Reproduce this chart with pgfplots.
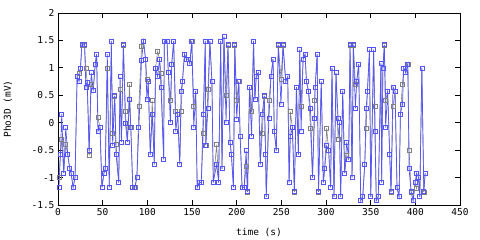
\documentclass[border=0pt]{standalone}
\usepackage{pgfplots}
\pgfplotsset{compat=1.18}
\usepackage{fontspec}
\setmainfont{DejaVu Sans Mono}
\definecolor{bl}{RGB}{85,85,255}
\definecolor{gr}{RGB}{128,128,128}
\begin{document}
\begin{tikzpicture}
\useasboundingbox (-58pt,-35pt) rectangle (422pt,205pt);
\begin{axis}[at={(0,0)}, anchor=south west, scale only axis,
  width=402pt, height=192pt,
  xmin=0, xmax=450, ymin=-1.5, ymax=2,
  xtick={0,50,100,150,200,250,300,350,400,450},
  xticklabels={0,50,100,150,200,250,300,350,400,450},
  ytick={-1.5,-1,-0.5,0,0.5,1,1.5,2},
  yticklabels={-1.5,-1,-0.5,0,0.5,1,1.5,2},
  tick align=inside, major tick length=5pt,
  tick style={black, line width=0.8pt},
  axis line style={line width=0.8pt},
  ticklabel style={font=\fontsize{9.5}{11}\selectfont},
  label style={font=\fontsize{9.5}{11}\selectfont},
  xlabel={time (s)},
  xlabel style={at={(rel axis cs:0.5,0)}, anchor=center, yshift=-28pt},
  clip=false,
]
\addplot[color=gr, line width=0.6pt, mark=square, mark size=2pt, mark options={solid}] coordinates {
(1.1,-1.0) (2.7,-0.58) (4.2,-0.3) (6.4,-0.92) (8.7,-0.4) (10.9,-0.58) (13.2,-0.84) (14.7,-0.92) (16.9,-1.18) (19.1,-1.0)
(21.4,0.84) (23.6,0.9) (25.2,1.0) (26.7,1.42) (29.7,1.42) (31.2,1.0) (32.7,0.74) (34.9,-0.6) (37.2,0.7) (39.4,0.59)
(41.7,1.07) (43.2,1.25) (44.7,0.1) (47.0,-0.09) (49.2,-1.18) (51.4,-0.92) (52.9,-0.84) (55.2,1.0) (57.4,-1.18) (59.7,1.49)
(61.2,-0.2) (63.5,0.49) (65.0,-0.4) (68.0,-1.09) (69.5,0.6) (71.0,-0.35) (73.2,1.42) (75.5,0.2) (77.7,-0.35) (80.0,0.7)
(81.5,-0.09) (83.7,-1.18) (86.0,-1.18) (88.3,-1.0) (90.5,0.3) (93.5,1.4) (95.7,1.49) (98.0,1.16) (99.5,0.8) (101.0,0.75)
(103.3,-0.58) (105.5,0.4) (107.8,-0.76) (109.2,1.0) (111.5,1.3) (113.7,1.16) (115.3,0.9) (118.3,-0.67) (119.0,1.49) (122.0,1.49)
(123.5,0.91) (125.8,0.4) (127.3,1.07) (129.5,1.49) (131.8,0.2) (134.0,0.16) (136.3,-0.76) (137.8,0.2) (139.3,0.75) (141.6,1.25)
(143.8,1.16) (146.0,1.16) (147.5,1.08) (149.8,1.49) (152.0,0.3) (154.2,0.58) (155.8,-1.18) (158.1,-1.09) (160.4,-1.09) (162.6,-0.2)
(164.9,1.49) (165.5,-0.41) (167.8,0.6) (170.0,1.49) (172.3,0.75) (173.8,-1.09) (177.6,-0.4) (179.8,-1.09) (182.1,1.49) (183.6,-0.84)
(185.8,1.57) (188.1,0.5) (190.3,1.42) (192.6,-0.35) (194.1,-0.58) (196.4,-1.18) (197.9,1.42) (200.1,0.4) (202.4,0.75) (203.9,-0.25)
(206.1,-1.18) (208.4,-1.18) (210.6,-0.8) (212.2,-1.26) (214.4,0.65) (216.7,0.2) (218.9,1.49) (220.4,0.42) (221.9,0.84) (224.1,0.91)
(226.4,-0.76) (228.6,-0.2) (230.9,0.49) (232.4,-0.58) (233.1,-1.35) (236.1,0.4) (238.4,0.84) (240.7,1.16) (242.1,-0.16) (244.4,-0.51)
(246.6,1.42) (249.6,0.8) (251.9,1.42) (254.9,0.75) (257.2,0.84) (258.7,-1.09) (260.1,0.2) (262.4,-0.09) (264.6,-1.26) (266.9,0.65)
(269.1,-0.58) (270.6,1.33) (272.1,0.3) (274.4,1.16) (276.6,1.25) (278.1,0.75) (280.4,0.58) (282.6,-0.1) (284.9,-1.0) (287.1,0.4)
(287.9,0.65) (290.1,1.25) (291.6,-1.26) (294.7,0.75) (297.0,-1.09) (298.5,-0.84) (300.7,-0.1) (303.0,-0.51) (305.2,-1.18) (306.7,1.0)
(309.0,-1.35) (311.2,0.91) (313.5,-0.3) (315.0,0.0) (316.4,-1.35) (318.7,0.58) (320.9,-0.92) (323.2,-0.6) (325.4,-0.67) (326.9,1.42)
(329.2,-1.0) (330.6,1.42) (332.9,0.7) (334.4,0.75) (336.6,1.07) (338.9,-1.42) (341.1,-1.35) (343.4,-0.76) (344.9,-0.1) (346.4,0.58)
(348.7,1.33) (350.1,-1.35) (353.3,1.33) (354.7,0.3) (356.3,-1.42) (358.5,-1.35) (361.5,1.08) (362.3,-1.09) (363.7,1.0) (365.3,1.42)
(366.8,0.4) (369.0,0.58) (371.3,-0.58) (372.8,-1.26) (375.0,0.3) (377.3,0.58) (379.5,-1.18) (381.8,-1.35) (383.3,0.16) (385.6,0.7)
(387.0,1.0) (389.3,0.91) (391.6,1.07) (393.0,-0.5) (395.3,-1.26) (397.5,-1.42) (399.8,-1.09) (401.3,-1.2) (403.6,-1.0) (405.0,-1.35)
(407.3,1.0) (409.5,-1.26) (411.0,-0.92)
};
\addplot[color=bl, line width=0.7pt, mark=square, mark size=2pt, mark options={solid}] coordinates {
(1.1,-1.18) (2.7,-0.58) (4.2,0.16) (6.4,-0.92) (8.7,-0.09) (10.9,-0.58) (13.2,-0.84) (14.7,-0.92) (16.9,-1.18) (19.1,-1.0)
(21.4,0.84) (23.6,0.75) (25.2,1.0) (26.7,1.42) (29.7,1.42) (31.2,0.65) (32.7,0.74) (34.9,-0.51) (37.2,0.91) (39.4,0.59)
(41.7,1.07) (43.2,1.25) (44.7,-0.16) (47.0,-0.09) (49.2,-1.18) (51.4,-0.92) (52.9,-0.84) (55.2,1.25) (57.4,-1.18) (59.7,1.49)
(61.2,-0.42) (63.5,0.49) (65.0,-0.58) (68.0,-1.09) (69.5,0.84) (71.0,-0.35) (73.2,1.42) (75.5,-0.01) (77.7,-0.35) (80.0,0.42)
(81.5,-0.09) (83.7,-1.18) (86.0,-1.18) (88.3,-1.0) (90.5,-0.09) (93.5,1.13) (95.7,1.49) (98.0,1.16) (99.5,0.42) (101.0,0.75)
(103.3,-0.58) (105.5,0.16) (107.8,-0.76) (109.2,1.0) (111.5,0.84) (113.7,1.16) (115.3,0.65) (118.3,-0.67) (119.0,1.49) (122.0,1.49)
(123.5,0.91) (125.8,0.0) (127.3,1.07) (129.5,1.49) (131.8,-0.16) (134.0,0.16) (136.3,-0.76) (137.8,0.58) (139.3,0.75) (141.6,1.25)
(143.8,1.16) (146.0,1.16) (147.5,1.08) (149.8,1.49) (152.0,-0.09) (154.2,0.58) (155.8,-1.18) (158.1,-1.09) (160.4,-1.09) (162.6,0.16)
(164.9,1.49) (165.5,-0.41) (167.8,0.26) (170.0,1.49) (172.3,0.75) (173.8,-1.09) (177.6,-0.76) (179.8,-1.09) (182.1,1.49) (183.6,-0.84)
(185.8,1.57) (188.1,0.0) (190.3,1.42) (192.6,-0.35) (194.1,-0.58) (196.4,-1.18) (197.9,1.42) (200.1,0.07) (202.4,0.75) (203.9,-0.25)
(206.1,-1.18) (208.4,-1.18) (210.6,-0.51) (212.2,-1.26) (214.4,0.65) (216.7,-0.25) (218.9,1.49) (220.4,0.42) (221.9,0.84) (224.1,0.91)
(226.4,-0.76) (228.6,0.16) (230.9,0.49) (232.4,-0.58) (233.1,-1.35) (236.1,0.08) (238.4,0.84) (240.7,1.16) (242.1,-0.16) (244.4,-0.51)
(246.6,1.42) (249.6,0.33) (251.9,1.42) (254.9,0.75) (257.2,0.84) (258.7,-1.09) (260.1,-0.25) (262.4,-0.09) (264.6,-1.26) (266.9,0.65)
(269.1,-0.58) (270.6,1.33) (272.1,-0.16) (274.4,1.16) (276.6,1.25) (278.1,0.75) (280.4,0.58) (282.6,0.26) (284.9,-1.0) (287.1,0.08)
(287.9,0.65) (290.1,1.25) (291.6,-1.26) (294.7,0.75) (297.0,-1.09) (298.5,-0.84) (300.7,-0.42) (303.0,-0.51) (305.2,-1.18) (306.7,1.0)
(309.0,-1.35) (311.2,0.91) (313.5,0.08) (315.0,0.0) (316.4,-1.35) (318.7,0.58) (320.9,-0.92) (323.2,-0.35) (325.4,-0.67) (326.9,1.42)
(329.2,-1.0) (330.6,1.42) (332.9,0.26) (334.4,0.75) (336.6,1.07) (338.9,-1.42) (341.1,-1.35) (343.4,-0.76) (344.9,0.26) (346.4,0.58)
(348.7,1.33) (350.1,-1.35) (353.3,1.33) (354.7,-0.16) (356.3,-1.42) (358.5,-1.35) (361.5,1.08) (362.3,-1.09) (363.7,1.0) (365.3,1.42)
(366.8,-0.09) (369.0,0.58) (371.3,-0.58) (372.8,-1.26) (375.0,0.65) (377.3,0.58) (379.5,-1.18) (381.8,-1.35) (383.3,0.16) (385.6,0.33)
(387.0,1.0) (389.3,0.91) (391.6,1.07) (393.0,-0.84) (395.3,-1.26) (397.5,-1.42) (399.8,-1.09) (401.3,-0.92) (403.6,-1.0) (405.0,-1.35)
(407.3,1.0) (409.5,-1.26) (411.0,-0.92)
};
\node[rotate=90, font=\fontsize{9.5}{11}\selectfont] at (axis description cs:-0.1244,0.5) {Pho3D (mV)};
\end{axis}
\end{tikzpicture}
\end{document}
